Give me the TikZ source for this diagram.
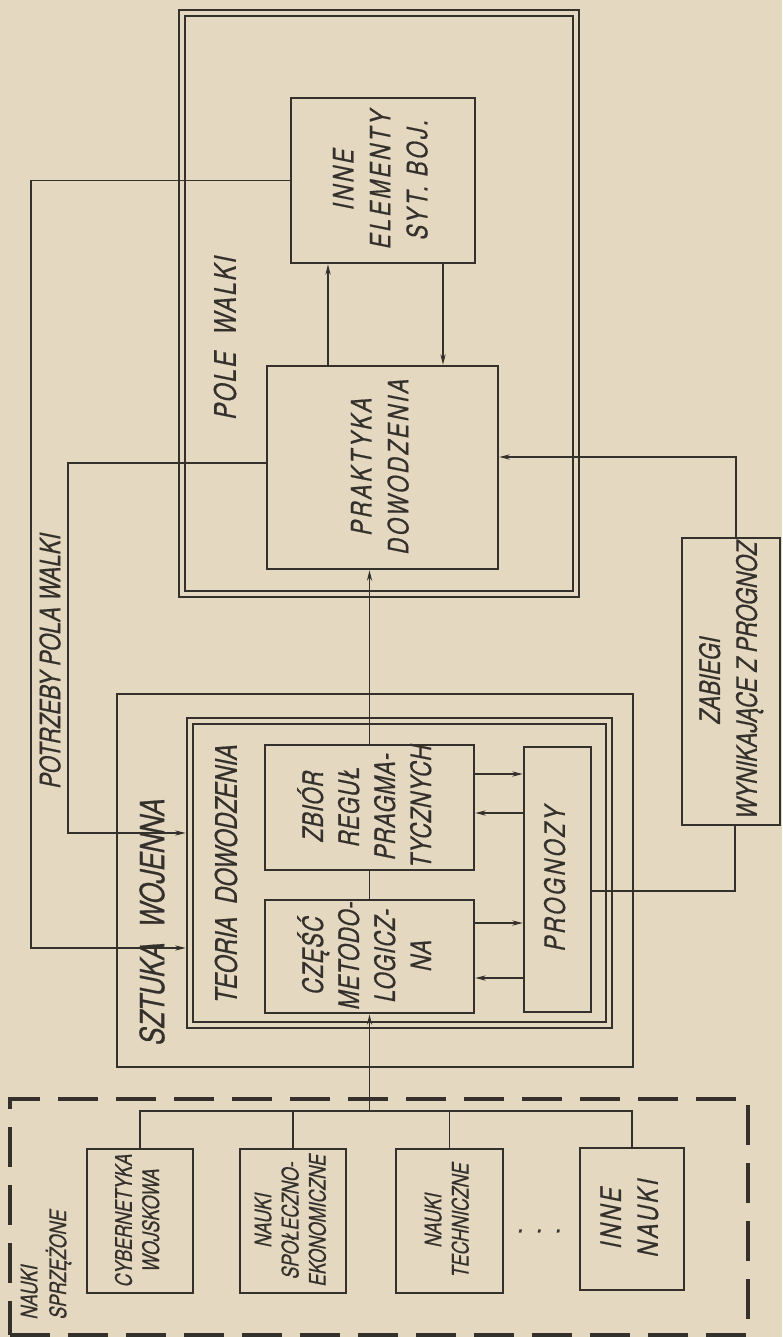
\documentclass[tikz,border=0pt]{standalone}
\usepackage{fontspec}
\setmainfont{TeX Gyre Heros}[FakeStretch=0.78,FakeSlant=0.2,FakeBold=0.5]
\usepackage{graphicx}
\usetikzlibrary{arrows.meta}
\definecolor{paper}{RGB}{228,216,192}
\definecolor{ink}{RGB}{52,48,44}
\newcommand{\titlefont}{\fontsize{19}{24}\selectfont}
\newcommand{\labelfont}{\fontsize{17}{22}\selectfont}
\newcommand{\boxfont}{\fontsize{16}{21}\selectfont}
\newcommand{\spacedfont}{\fontsize{16}{21}\selectfont\addfontfeatures{LetterSpace=10}}
\newcommand{\tightfont}{\fontsize{16}{20.5}\selectfont\addfontfeatures{LetterSpace=3}}
\newcommand{\smallfont}{\fontsize{13}{15.5}\selectfont}
\newcommand{\vtext}[1]{\rotatebox{90}{\begin{tabular}{@{}c@{}}#1\end{tabular}}}
\tikzstyle{block}=[draw=ink, line width=1.5pt, inner sep=0, text=ink]
\tikzstyle{frame}=[draw=ink, line width=1.6pt, inner sep=0]
\tikzstyle{inner frame}=[draw=ink, line width=0.7pt, inner sep=0]
\tikzstyle{group}=[draw=ink, line width=1.8pt, dash pattern=on 0.8cm off 0.36cm, inner sep=0]
\tikzstyle{caption}=[text=ink, rotate=90, inner sep=0]
\tikzstyle{link}=[draw=ink, line width=0.6pt]
\tikzstyle{flow}=[link, -{Stealth[length=6pt, width=3pt]}]

\begin{document}
\begin{tikzpicture}[x=0.02cm, y=-0.02cm]
  \fill[paper] (0,0) rectangle (782,1337);
  \useasboundingbox (0,0) rectangle (782,1337);

  % pole walki
  \node[frame, minimum width=8.00cm, minimum height=11.74cm] (pole_out) at (379,303.5) {};
  \node[inner frame, minimum width=7.76cm, minimum height=11.50cm] (pole_in) at (379,303.5) {};
  \node[caption, font=\labelfont\addfontfeatures{LetterSpace=6}] (pole_label) at (225,339) {POLE\ \ WALKI};
  \node[block, minimum width=3.68cm, minimum height=3.30cm, font=\spacedfont] (inne) at (383,180.5)
    {\vtext{INNE\\ELEMENTY\\SYT. BOJ.}};
  \node[block, minimum width=4.62cm, minimum height=4.06cm, font=\spacedfont] (praktyka) at (382.5,467.5)
    {\vtext{PRAKTYKA\\DOWODZENIA}};

  % sztuka wojenna
  \node[frame, minimum width=10.32cm, minimum height=7.46cm] (sztuka) at (375,880.5) {};
  \node[caption, font=\titlefont] (sztuka_label) at (152,923) {SZTUKA\ \ WOJENNA};
  \node[frame, minimum width=8.50cm, minimum height=6.20cm] (teoria_out) at (399.5,873) {};
  \node[inner frame, minimum width=8.26cm, minimum height=5.96cm] (teoria_in) at (399.5,873) {};
  \node[caption, font=\labelfont] (teoria_label) at (226,875) {TEORIA\ \ DOWODZENIA};
  \node[block, minimum width=4.18cm, minimum height=2.50cm, font=\tightfont] (zbior) at (369.5,807.5)
    {\vtext{ZBIÓR\\REGUŁ\\PRAGMA-\\TYCZNYCH}};
  \node[block, minimum width=4.18cm, minimum height=2.26cm, font=\tightfont] (czesc) at (369.5,956.5)
    {\vtext{CZĘŚĆ\\METODO-\\LOGICZ-\\NA}};
  \node[block, minimum width=1.34cm, minimum height=5.30cm, font=\spacedfont] (prognozy) at (557.5,879.5)
    {\vtext{PROGNOZY}};

  \node[block, minimum width=1.96cm, minimum height=5.74cm, font=\boxfont] (zabiegi) at (731,681.5)
    {\vtext{ZABIEGI\\WYNIKAJĄCE Z PROGNOZ}};

  % nauki sprzezone
  \node[group, minimum width=14.76cm, minimum height=4.72cm] (nauki) at (379,1217) {};
  \node[text=ink, font=\smallfont, anchor=south west, inner sep=0] (nauki_label) at (18,1320)
    {\rotatebox{90}{\begin{tabular}{@{}l@{}}NAUKI\\SPRZĘŻONE\end{tabular}}};
  \node[block, minimum width=2.12cm, minimum height=2.88cm, font=\smallfont] (cyber) at (140,1221)
    {\vtext{CYBERNETYKA\\WOJSKOWA}};
  \node[block, minimum width=2.12cm, minimum height=2.88cm, font=\smallfont] (spol) at (293,1221)
    {\vtext{NAUKI\\SPOŁECZNO-\\EKONOMICZNE}};
  \node[block, minimum width=2.14cm, minimum height=2.88cm, font=\smallfont] (tech) at (449.5,1221)
    {\vtext{NAUKI\\TECHNICZNE}};
  \node[text=ink, font=\boxfont] (more) at (539,1231) {.\hspace{7.3pt}.\hspace{7.3pt}.};
  \node[block, minimum width=2.08cm, minimum height=2.84cm, font=\spacedfont] (inne_nauki) at (632,1219)
    {\vtext{INNE\\NAUKI}};

  \coordinate (bus) at (369.5,1111);
  \draw[link] (bus) -| (cyber.north);
  \draw[link] (bus) -| (spol.north);
  \draw[link] (bus) -| (tech.north);
  \draw[link] (bus) -| (inne_nauki.north);
  \draw[flow] (bus) -- (czesc.south);
  \draw[link] (czesc.north) -- (zbior.south);
  \draw[flow] (zbior.north) -- (zbior.north |- praktyka.south);

  % sprzezenia
  \draw[flow] (praktyka.north -| 328,0) -- (inne.south -| 328,0);
  \draw[flow] (inne.south -| 443,0) -- (praktyka.north -| 443,0);
  \draw[flow] ([yshift=0.67cm]zbior.east) -- ([yshift=0.67cm]zbior.east -| prognozy.west);
  \draw[flow] ([yshift=-0.11cm]zbior.east -| prognozy.west) -- ([yshift=-0.11cm]zbior.east);
  \draw[flow] ([yshift=0.67cm]czesc.east) -- ([yshift=0.67cm]czesc.east -| prognozy.west);
  \draw[flow] ([yshift=-0.43cm]czesc.east -| prognozy.west) -- ([yshift=-0.43cm]czesc.east);

  \coordinate (potrzeby) at (31,948);
  \coordinate (praktyka_back) at (68,833);
  \draw[flow] (inne.west) -| (potrzeby) -- (teoria_out.west |- potrzeby);
  \draw[flow] ([yshift=0.09cm]praktyka.west) -| (praktyka_back) -- (teoria_out.west |- praktyka_back);
  \node[caption, font=\boxfont] (potrzeby_label) at (50,662) {POTRZEBY\ POLA\ WALKI};

  \draw[flow] ([xshift=0.1cm]zabiegi.north) |- ([yshift=0.21cm]praktyka.east);
  \draw[link] ([xshift=0.08cm]zabiegi.south) |- ([yshift=-0.23cm]prognozy.east);
\end{tikzpicture}
\end{document}
